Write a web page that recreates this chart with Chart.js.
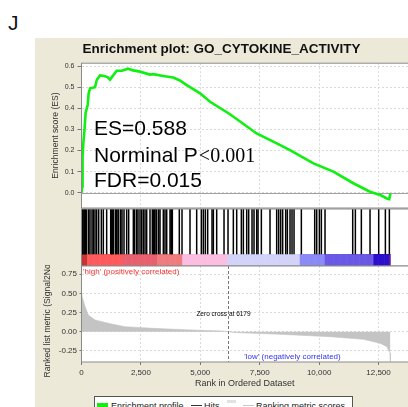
<!DOCTYPE html>
<html>
<head>
<meta charset="utf-8">
<script src="https://cdn.jsdelivr.net/npm/chart.js@4.4.1/dist/chart.umd.min.js"></script>
<style>
  html, body { margin: 0; padding: 0; background: #fff; width: 408px; height: 407px; overflow: hidden; }
  body { position: relative; font-family: 'Liberation Sans', Arial, sans-serif; }
  #panel { position: absolute; left: 35px; top: 38px; width: 373px; height: 369px; background: #ece9d8; }
  canvas { position: absolute; }
  #esChart { left: 35px; top: 38px; }
  #hitChart { left: 35px; top: 208px; }
  #metricChart { left: 35px; top: 265px; }
  #letter { position: absolute; left: 8px; top: 12px; font-size: 21px; line-height: 21px; color: #111; }
  #legend { position: absolute; left: 94px; top: 396px; width: 259px; height: 24px; box-sizing: border-box;
            background: #fff; border: 1px solid #555; }
  #legend span { position: absolute; top: 4.8px; font-size: 9px; line-height: 9px; color: #222; white-space: nowrap; }
  #legend i { position: absolute; display: block; }
</style>
</head>
<body>
<div id="panel"></div>
<div id="letter">J</div>
<canvas id="esChart" width="373" height="171"></canvas>
<canvas id="hitChart" width="373" height="58"></canvas>
<canvas id="metricChart" width="373" height="142"></canvas>
<div id="legend">
  <i style="left:1.7px;top:6.3px;width:11.6px;height:3.5px;background:#10f010"></i>
  <span style="left:16px">Enrichment profile</span>
  <i style="left:95.7px;top:7.6px;width:11px;height:1.2px;background:#333"></i>
  <span style="left:109px">Hits</span>
  <i style="left:132px;top:3px;width:9px;height:3px;background:#e2e2e2"></i>
  <i style="left:148px;top:7.6px;width:11px;height:1.4px;background:#c8c8c8"></i>
  <span style="left:161px">Ranking metric scores</span>
</div>
<script>
// data
const geneCount = 13000;
const zeroCross = 6179;

const esRanks = [0, 30, 45, 80, 120, 175, 260, 300, 360, 570, 640, 780, 950, 1100, 1200, 1480, 1700,
  1960, 2170, 2460, 2880, 3020, 3440, 3860, 4140, 4430, 4990, 5410, 6250, 7370, 8070, 8775, 9760,
  10600, 11440, 12140, 12600, 12845, 12950, 13000];
const esScores = [0, 0.03, 0.17, 0.24, 0.29, 0.38, 0.416, 0.47, 0.495, 0.50, 0.534, 0.556, 0.553, 0.548,
  0.536, 0.578, 0.578, 0.588, 0.58, 0.574, 0.56, 0.562, 0.553, 0.546, 0.532, 0.51, 0.471, 0.431, 0.372,
  0.281, 0.242, 0.202, 0.139, 0.10, 0.045, 0.005, -0.012, -0.027, -0.03, -0.003];

const hitRanks = [20, 49, 60, 105, 130, 161, 190, 217, 302, 358, 442, 498, 568, 638, 723, 835, 919, 1059,
  1228, 1250, 1284, 1310, 1340, 1424, 1450, 1480, 1536, 1564, 1649, 1705, 1789, 1901, 1985, 2182, 2238,
  2322, 2378, 2462, 2532, 2602, 2673, 2743, 2883, 2980, 3023, 3060, 3079, 3136, 3164, 3248, 3304, 3444,
  3514, 3585, 3725, 3767, 3800, 3823, 4116, 4230, 4566, 4847, 5043, 5127, 5212, 5310, 5493, 5549, 5689,
  5998, 6166, 6390, 6531, 6727, 6812, 6952, 7036, 7176, 7260, 7373, 7429, 7569, 7933, 8214, 8298, 8382,
  8466, 8593, 8663, 8775, 8859, 8944, 9252, 9814, 9898, 10010, 10094, 10248, 11413, 11525, 11777, 12142,
  12507, 12788, 12956];

const metricRanks = [0, 35, 150, 285, 570, 1130, 1830, 3230, 4640, 5900, 6179, 6390, 8350, 10460,
  11860, 12560, 12850, 12985, 13000];
const metricScores = [0.50, 0.45, 0.33, 0.218, 0.153, 0.11, 0.065, 0.04, 0.022, 0.009, 0, -0.01, -0.034,
  -0.065, -0.10, -0.15, -0.196, -0.28, -0.39];

// colour bar bands (start rank of each band)
const bandStarts = [0, 230, 1750, 3200, 4260, 6170, 9200, 10250, 12280, 12950];

// tick labels
const rankTicks = [0, 2500, 5000, 7500, 10000, 12500];
const esTicks = [0, 0.1, 0.2, 0.3, 0.4, 0.5, 0.6];
const metricTicks = [-0.25, 0, 0.25, 0.5, 0.75];

const bandColours = ['#c63434', '#ff5a5c', '#e8606f', '#f07c7e', '#fbbde0', '#d3d3fa', '#8a8af6',
  '#6a58e6', '#2c10cc', '#5a1aa0'];
const xMax = 13740;

Chart.defaults.font.family = "'Liberation Sans', Arial, sans-serif";
Chart.defaults.color = '#333';

function bandColour(rank) {
  let c = bandColours[0];
  bandStarts.forEach((s, i) => { if (rank >= s) c = bandColours[i]; });
  return c;
}

const colourSegments = [];
for (let r = 0; r < geneCount; r += 50) colourSegments.push({ x: r + 25, y: [-0.26, 0] });

const useTicks = (vals) => (s) => { s.ticks = vals.map((v) => ({ value: v })); };
const fixY = (w) => (s) => { s.width = w; s.paddingTop = 0; s.paddingBottom = 0; };

// white plot area + grey frame
const panelPlugin = {
  id: 'panel',
  beforeDraw(chart) {
    const { ctx, chartArea: a } = chart;
    ctx.save();
    ctx.fillStyle = '#fff';
    ctx.fillRect(a.left, a.top, a.right - a.left, a.bottom - a.top);
    ctx.restore();
  },
  afterDraw(chart) {
    const { ctx, chartArea: a } = chart;
    ctx.save();
    ctx.strokeStyle = '#8a8a8a';
    ctx.lineWidth = 1;
    ctx.strokeRect(a.left, a.top, a.right - a.left + 2, a.bottom - a.top);
    ctx.restore();
  }
};

// top: enrichment score
new Chart(document.getElementById('esChart'), {
  type: 'line',
  data: {
    datasets: [{
      data: esRanks.map((r, i) => ({ x: r, y: esScores[i] })),
      borderColor: '#10f010',
      borderWidth: 2.6,
      pointRadius: 0,
      tension: 0
    }]
  },
  options: {
    responsive: false,
    animation: false,
    devicePixelRatio: 1,
    layout: { padding: { top: 0, right: 0, bottom: 1, left: 0 } },
    plugins: {
      legend: { display: false },
      tooltip: { enabled: false },
      title: {
        display: true,
        text: 'Enrichment plot: GO_CYTOKINE_ACTIVITY',
        color: '#111',
        font: { size: 13.5, weight: 'bold' },
        padding: { top: 3, bottom: 6 }
      }
    },
    scales: {
      x: {
        type: 'linear', min: 0, max: xMax,
        afterBuildTicks: useTicks(rankTicks),
        afterFit: (s) => { s.height = 0; },
        ticks: { display: false },
        grid: { color: '#dadada', drawTicks: false },
        border: { display: false, dash: [2, 2] }
      },
      y: {
        min: -0.0724, max: 0.614,
        afterBuildTicks: useTicks(esTicks),
        afterFit: fixY(46.5),
        ticks: { font: { size: 7 }, color: '#333', padding: 3, callback: (v) => v.toFixed(1) },
        grid: { color: '#dadada', tickColor: '#777', tickLength: 4, tickBorderDash: [] },
        border: { display: false, dash: [2, 2] },
        title: { display: true, text: 'Enrichment score (ES)', font: { size: 8.6 }, color: '#333',
          padding: { top: 15.6, bottom: 0 } }
      }
    }
  },
  plugins: [panelPlugin, {
    id: 'esExtras',
    beforeDatasetsDraw(chart) {
      const { ctx, chartArea: a, scales } = chart;
      const y0 = Math.round(scales.y.getPixelForValue(0)) + 0.5;
      ctx.save();
      ctx.strokeStyle = '#a0a0a0';
      ctx.lineWidth = 1;
      ctx.beginPath();
      ctx.moveTo(a.left, y0);
      ctx.lineTo(a.right, y0);
      ctx.stroke();
      ctx.restore();
    },
    afterDraw(chart) {
      const { ctx, chartArea: a } = chart;
      const x = a.left + 12.5;
      ctx.save();
      ctx.fillStyle = '#000';
      ctx.textBaseline = 'alphabetic';
      ctx.font = "21px 'Liberation Sans', Arial, sans-serif";
      ctx.fillText('ES=0.588', x, a.top + 72);
      ctx.fillText('Norminal P', x, a.top + 98.5);
      const w = ctx.measureText('Norminal P').width;
      ctx.font = "20px 'Liberation Serif', 'Times New Roman', serif";
      ctx.fillText('<0.001', x + w + 1, a.top + 98.5);
      ctx.font = "21px 'Liberation Sans', Arial, sans-serif";
      ctx.fillText('FDR=0.015', x, a.top + 124);
      ctx.restore();
    }
  }]
});

// middle: hits and colour bar
new Chart(document.getElementById('hitChart'), {
  type: 'bar',
  data: {
    datasets: [{
      data: hitRanks.map((r) => ({ x: r, y: 1 })),
      xAxisID: 'x',
      backgroundColor: '#000',
      barThickness: 1.5,
      inflateAmount: 0,
      grouped: false
    }, {
      data: colourSegments,
      xAxisID: 'xc',
      backgroundColor: (c) => bandColour(c.raw ? c.raw.x : 0),
      barPercentage: 1,
      categoryPercentage: 1,
      grouped: false
    }]
  },
  options: {
    responsive: false,
    animation: false,
    devicePixelRatio: 1,
    layout: { padding: { top: 1, right: 0, bottom: 0, left: 46.5 } },
    plugins: { legend: { display: false }, tooltip: { enabled: false } },
    scales: {
      x: { type: 'linear', min: 0, max: xMax, offset: false, display: false },
      xc: { type: 'linear', min: 0, max: xMax, offset: false, display: false },
      y: { min: -0.26, max: 1, display: false }
    }
  },
  plugins: [panelPlugin]
});

// bottom: ranked list metric
new Chart(document.getElementById('metricChart'), {
  type: 'line',
  data: {
    datasets: [{
      data: metricRanks.map((r, i) => ({ x: r, y: metricScores[i] })),
      borderColor: '#c4c4c4',
      borderWidth: 0.6,
      backgroundColor: '#c4c4c4',
      fill: 'origin',
      pointRadius: 0,
      tension: 0
    }]
  },
  options: {
    responsive: false,
    animation: false,
    devicePixelRatio: 1,
    layout: { padding: { top: 1, right: 0, bottom: 0, left: 0 } },
    plugins: { legend: { display: false }, tooltip: { enabled: false } },
    scales: {
      x: {
        type: 'linear', min: 0, max: xMax,
        afterBuildTicks: useTicks(rankTicks),
        afterFit: (s) => { s.height = 45; },
        ticks: { font: { size: 8 }, color: '#333', padding: 3, maxRotation: 0,
          callback: (v) => v.toLocaleString('en-US') },
        grid: { color: '#dadada', tickColor: '#777', tickLength: 3, tickBorderDash: [] },
        border: { display: false, dash: [2, 2] },
        title: { display: true, text: 'Rank in Ordered Dataset', font: { size: 9 }, color: '#333',
          padding: { top: 0, bottom: 17.6 } }
      },
      y: {
        min: -0.396, max: 0.858,
        afterBuildTicks: useTicks(metricTicks),
        afterFit: fixY(46.5),
        ticks: { font: { size: 8 }, color: '#333', padding: 2.5, callback: (v) => v.toFixed(2) },
        grid: { color: '#dadada', tickColor: '#777', tickLength: 2, tickBorderDash: [] },
        border: { display: false, dash: [2, 2] },
        title: { display: true, text: 'Ranked list metric (Signal2Noise)', font: { size: 8.6 }, color: '#333',
          padding: { top: 7.9, bottom: 0 } }
      }
    }
  },
  plugins: [panelPlugin, {
    id: 'metricExtras',
    afterDatasetsDraw(chart) {
      const { ctx, chartArea: a, scales } = chart;
      const zx = Math.round(scales.x.getPixelForValue(zeroCross)) + 0.5;
      ctx.save();
      ctx.strokeStyle = '#777';
      ctx.lineWidth = 1;
      ctx.setLineDash([3, 2]);
      ctx.beginPath();
      ctx.moveTo(zx, a.top);
      ctx.lineTo(zx, a.bottom);
      ctx.stroke();
      ctx.setLineDash([]);
      ctx.textBaseline = 'middle';
      ctx.font = "6.5px 'Liberation Sans', Arial, sans-serif";
      ctx.fillStyle = '#000';
      ctx.textAlign = 'center';
      ctx.fillText('Zero cross at ' + zeroCross, zx - 5, a.top + 48);
      ctx.font = "8px 'Liberation Sans', Arial, sans-serif";
      ctx.textAlign = 'left';
      ctx.fillStyle = '#f23030';
      ctx.fillText("'high' (positively correlated)", a.left + 1.5, a.top + 5.5);
      ctx.textAlign = 'center';
      ctx.fillStyle = '#3434ee';
      ctx.fillText("'low' (negatively correlated)", a.left + 211, a.bottom - 5);
      ctx.restore();
    }
  }]
});
</script>
</body>
</html>
